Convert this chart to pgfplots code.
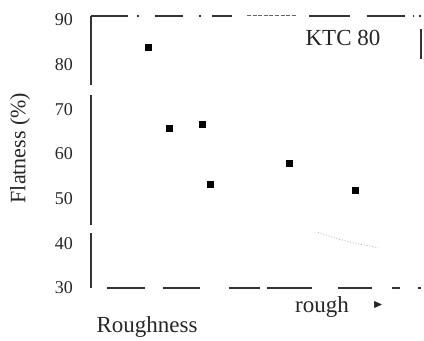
\documentclass[border=0pt]{standalone}
\usepackage{pgfplots}
\pgfplotsset{compat=1.18}
\usepackage{fontspec}
\setmainfont{Liberation Serif}
\usepackage{amssymb}
\begin{document}
\begin{tikzpicture}
\useasboundingbox (-45.5pt,-26.5pt) rectangle (166.5pt,144pt);
\begin{axis}[
  at={(0,0)}, anchor=south west,
  scale only axis, width=165pt, height=136pt,
  xmin=0, xmax=10, ymin=30, ymax=90.9,
  axis line style={draw=none},
  major tick length=0pt,
  xtick=\empty,
  ytick={30,40,50,60,70,80,90},
  yticklabel style={font=\fontsize{9}{9}\selectfont, xshift=-5.5pt, text=black!85},
  /pgf/number format/assume math mode=true,
  clip=false,
]
% faint remnant of a curve
\addplot[black!35, densely dotted, line width=0.4pt, smooth] coordinates {
  (6.88,42.5) (7.39,41.2) (7.85,40.3) (8.30,39.6) (8.70,39.0)};
% data
\addplot[only marks, mark=square*, mark size=1.5pt, black] coordinates {
  (1.73,83.8) (2.39,65.8) (3.39,66.7) (3.61,53.3) (6.00,57.8) (8.00,51.8)};
\end{axis}
% frame (scanned, broken lines); axis box is (0,0)--(165pt,136pt)
\foreach \a/\b in {0/0.112, 0.140/0.145, 0.194/0.279, 0.328/0.333, 0.367/0.427, 0.661/0.785, 0.836/0.952, 0.975/0.980, 0.995/1.0}
  \draw[line width=0.55pt, black!80] (\a*165pt,136pt) -- (\b*165pt,136pt);
\draw[line width=0.5pt, black!60, dash pattern=on 2pt off 0.8pt] (0.473*165pt,136pt) -- (0.624*165pt,136pt);
\foreach \a/\b in {0.048/0.164, 0.218/0.330, 0.418/0.512, 0.533/0.670, 0.748/0.852, 0.912/0.936, 0.991/1.0}
  \draw[line width=0.55pt, black!80] (\a*165pt,0pt) -- (\b*165pt,0pt);
\foreach \a/\b in {0/0.202, 0.232/0.710, 0.746/1}
  \draw[line width=0.55pt, black!80] (0pt,\a*136pt) -- (0pt,\b*136pt);
\draw[line width=0.55pt, black!80] (165pt,0.842*136pt) -- (165pt,0.952*136pt);
\node[font=\fontsize{11.5}{12}\selectfont, text=black!85] at (126pt,125pt) {KTC 80};
\node[font=\fontsize{11.5}{12}\selectfont, text=black!85] at (115.5pt,-9.5pt) {rough};
\node[font=\tiny, text=black!85] at (143.5pt,-8.5pt) {$\blacktriangleright$};
\node[font=\fontsize{11.5}{12}\selectfont, text=black!85] at (28pt,-19.5pt) {Roughness};
\node[rotate=90, font=\fontsize{11}{12}\selectfont, text=black!85] at (-35.5pt,70pt) {Flatness (\%)};
\end{tikzpicture}
\end{document}
